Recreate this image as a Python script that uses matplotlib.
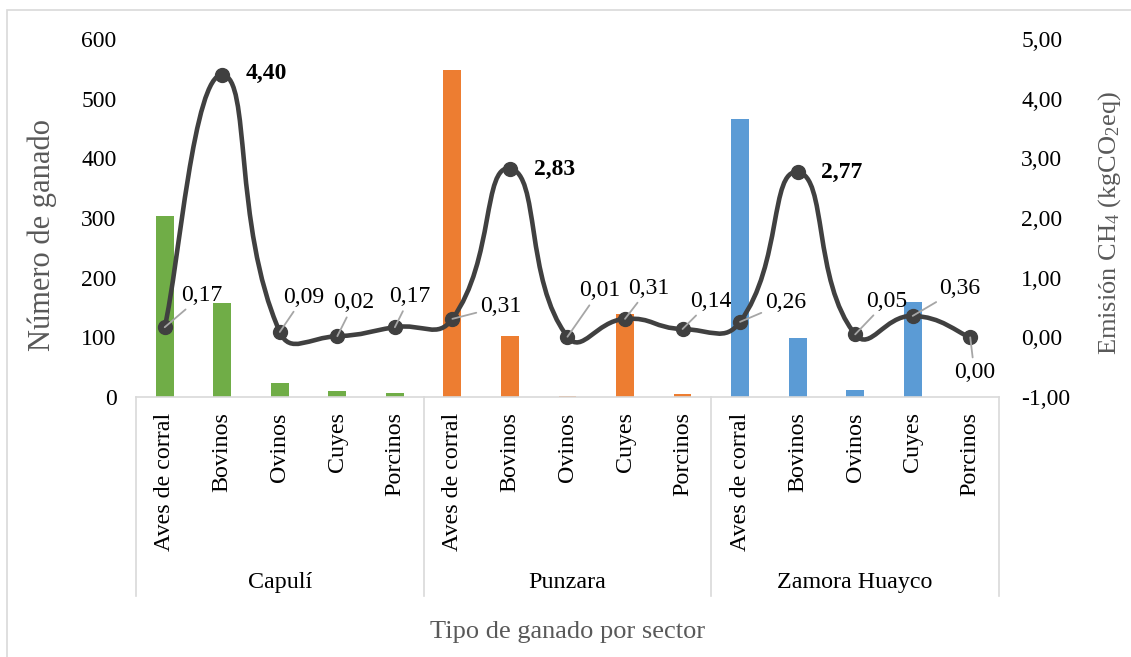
import matplotlib
matplotlib.use('Agg')
import matplotlib.pyplot as plt
import matplotlib.transforms as mtransforms
from matplotlib.path import Path
from matplotlib.patches import PathPatch, Rectangle

plt.rcParams['font.family'] = ['Liberation Serif', 'DejaVu Serif']
plt.rcParams['mathtext.fontset'] = 'custom'
plt.rcParams['mathtext.rm'] = 'Liberation Serif'
plt.rcParams['mathtext.it'] = 'Liberation Serif:italic'

# Data
sectors = ['Capulí', 'Punzara', 'Zamora Huayco']
animals = ['Aves de corral', 'Bovinos', 'Ovinos', 'Cuyes', 'Porcinos']
sector_colors = ['#70ad47', '#ed7d31', '#5b9bd5']

# Número de ganado per sector (same animal order)
capuli_count = [304, 158, 24, 10, 6]
punzara_count = [548, 102, 2, 139, 5]
zamora_count = [466, 99, 12, 159, 0]

# Emisión CH4 (kgCO2eq)
emission = [0.17, 4.40, 0.09, 0.02, 0.17,
            0.31, 2.83, 0.01, 0.31, 0.14,
            0.26, 2.77, 0.05, 0.36, 0.00]
bold_idx = [1, 6, 11]

# label offsets in points (dx, dy) relative to each point
label_offsets = [(27, 23), (32, 1), (17, 25), (12, 24), (11, 22),
                 (35, 9), (32, -1), (23, 33), (17, 22), (20, 20),
                 (33, 14), (32, 0), (23, 24), (34, 20), (3, -25)]

counts = capuli_count + punzara_count + zamora_count
colors = [c for c in sector_colors for _ in animals]
x = list(range(len(counts)))

fig = plt.figure(figsize=(11.31, 6.57), dpi=100)
ax = fig.add_axes([0.1202, 0.3957, 0.7631, 0.5449])
ax2 = ax.twinx()

# outer chart border
fig.patches.append(Rectangle((0.0062, -0.05), 1.2, 1.0348, transform=fig.transFigure,
                             fill=False, edgecolor='#d9d9d9', lw=1.2))

ax.bar(x, counts, width=0.31, color=colors, zorder=2)
ax.set_xlim(-0.5, len(counts) - 0.5)
ax.set_ylim(0, 600)
ax.set_yticks(range(0, 601, 100))
ax2.set_ylim(-1, 5)
ax2.set_yticks(range(-1, 6))
ax2.set_yticklabels([('%.2f' % v).replace('.', ',') for v in range(-1, 6)])

for a in (ax, ax2):
    for s in ('top', 'left', 'right', 'bottom'):
        a.spines[s].set_visible(False)
ax.spines['bottom'].set_visible(True)
ax.spines['bottom'].set_color('#d9d9d9')
ax.spines['bottom'].set_linewidth(1.2)

ax.tick_params(axis='y', length=0, pad=14, labelsize=17)
ax2.tick_params(axis='y', length=0, pad=16, labelsize=17)
ax.set_xticks(x)
ax.set_xticklabels(animals * len(sectors), rotation=90, va='top', fontsize=17.3)
ax.tick_params(axis='x', length=0, pad=11)

ax.set_ylabel('Número de ganado', color='#595959', fontsize=22)
ax.yaxis.set_label_coords(-0.0915, 0.4525)
ax2.set_ylabel('Emisión CH$_4$ (kgCO$_2$eq)', color='#595959', fontsize=19)
ax2.yaxis.set_label_coords(1.112, 0.486)

# group level of the category axis
trans = mtransforms.blended_transform_factory(ax.transData, ax.transAxes)
n = len(animals)
for g in range(len(sectors) + 1):
    xb = g * n - 0.5
    ax.plot([xb, xb], [0, -0.556], transform=trans, color='#d9d9d9', lw=1.2, clip_on=False)
for g, name in enumerate(sectors):
    ax.text(g * n + (n - 1) / 2, -0.517, name, transform=trans, ha='center', va='center', fontsize=17.3)
ax.text(0.5, -0.656, 'Tipo de ganado por sector', transform=ax.transAxes,
        ha='center', va='center', color='#595959', fontsize=19)

# smoothed line: Bezier through the points, tangents weighted by segment length (Excel-like)
disp = ax2.transData.transform(list(zip(x, emission)))
m = len(emission)


def seglen(i, j):
    return ((disp[j][0] - disp[i][0]) ** 2 + (disp[j][1] - disp[i][1]) ** 2) ** 0.5


verts = [(x[0], emission[0])]
codes = [Path.MOVETO]
for i in range(m - 1):
    a, b = max(i - 1, 0), min(i + 2, m - 1)
    d01, d12, d23 = seglen(a, i), seglen(i, i + 1), seglen(i + 1, b)
    w1 = d12 / (d01 + d12) if d01 + d12 > 0 else 0.5
    w2 = d12 / (d12 + d23) if d12 + d23 > 0 else 0.5
    if i == 0:
        w1 = 0.5
    if i + 1 == m - 1:
        w2 = 0.5
    k1, k2 = w1 / 2.0, w2 / 2.0
    c1 = (x[i] + (x[i + 1] - x[a]) * k1, emission[i] + (emission[i + 1] - emission[a]) * k1)
    c2 = (x[i + 1] - (x[b] - x[i]) * k2, emission[i + 1] - (emission[b] - emission[i]) * k2)
    verts += [c1, c2, (x[i + 1], emission[i + 1])]
    codes += [Path.CURVE4] * 3
ax2.add_patch(PathPatch(Path(verts, codes), fill=False, edgecolor='#404040', lw=3.3, zorder=3,
                        capstyle='round', joinstyle='round'))
ax2.plot(x, emission, 'o', color='#404040', ms=10, zorder=4)

for i, v in enumerate(emission):
    txt = ('%.2f' % v).replace('.', ',')
    if i in bold_idx:
        ax2.annotate(txt, (x[i], v), xytext=label_offsets[i], textcoords='offset points',
                     ha='center', va='center', fontsize=17, fontweight='bold', zorder=5)
    else:
        ax2.annotate(txt, (x[i], v), xytext=label_offsets[i], textcoords='offset points',
                     ha='center', va='center', fontsize=17, zorder=5,
                     arrowprops=dict(arrowstyle='-', color='#a6a6a6', lw=1.3,
                                     shrinkA=1, shrinkB=0))

fig.savefig('out.png', dpi=100)
